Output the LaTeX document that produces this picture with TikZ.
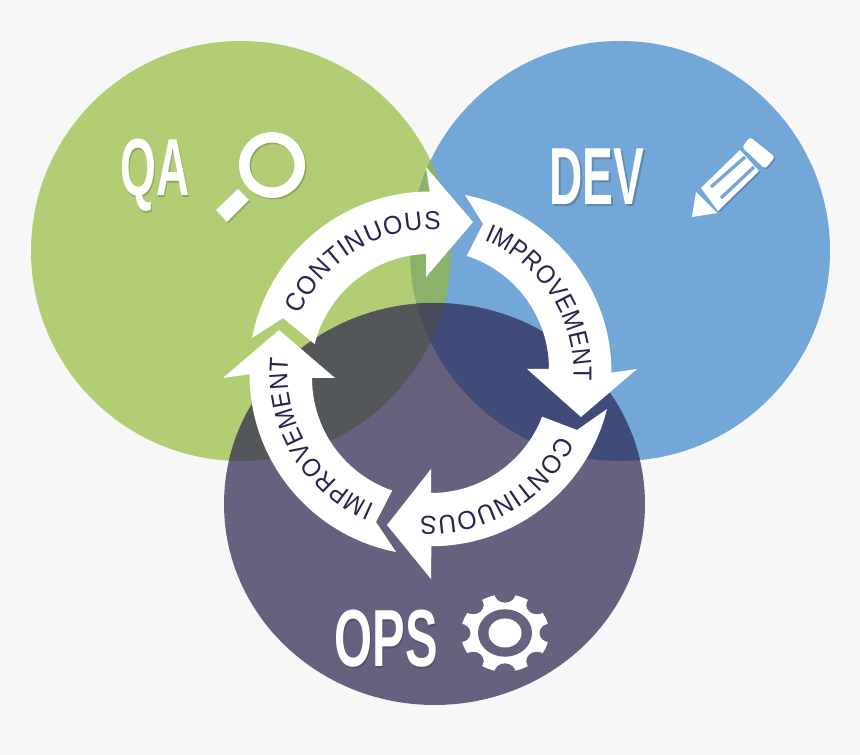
\documentclass[tikz,border=0pt]{standalone}
\usepackage{fontspec}
\newfontfamily\ringfont[FakeStretch=0.95]{Liberation Sans}
\newfontfamily\ringnarrow[FakeStretch=0.9]{Liberation Sans}
\newfontfamily\teamfont[FakeStretch=0.57]{Liberation Sans Bold}
\usepackage{tikz}
\usetikzlibrary{
	decorations.text
}

\definecolor{pagegray}{HTML}{F7F7F7}
\definecolor{qagreen}{HTML}{B3CD74}
\definecolor{devblue}{HTML}{72A7D7}
\definecolor{opspurple}{HTML}{67617F}
\definecolor{qadev}{HTML}{8AB268}
\definecolor{qaops}{HTML}{53575A}
\definecolor{devops}{HTML}{404B79}
\definecolor{allthree}{HTML}{474C5C}
\definecolor{ringtext}{HTML}{28234F}

\newcommand{\ringtype}{\ringfont\fontsize{26}{26}\selectfont\color{ringtext}}
\newcommand{\ringtypenarrow}{\ringnarrow\fontsize{26}{26}\selectfont\color{ringtext}}

\tikzset{
	teamlabel/.style={text=white, font=\teamfont\fontsize{81}{81}\selectfont, anchor=base, inner sep=0pt},
	ringlabel/.style={decorate, decoration={text along path, text align={fit to path}, text={|\ringtype|#1}}},
	ringlabelnarrow/.style={decorate, decoration={text along path, text align={fit to path}, text={|\ringtypenarrow|#1}}},
	shade offset/.style={shift={(1.5,-1.5)}, black, opacity=.18}
}

\newcommand{\qacircle}{(241,504) circle (210)}
\newcommand{\devcircle}{(620,504) circle (210)}
\newcommand{\opscircle}{(434.5,251) ellipse (210.5 and 201)}

\begin{document}
\begin{tikzpicture}[x=1pt, y=1pt]
		\fill[pagegray] (0,0) rectangle (860,755);

		% the three circles and their overlaps
		\fill[qagreen] \qacircle;
		\fill[devblue] \devcircle;
		\fill[opspurple] \opscircle;
		\begin{scope}
			\clip \qacircle;
			\fill[qadev] \devcircle;
			\fill[qaops] \opscircle;
			\clip \devcircle;
			\fill[allthree] \opscircle;
		\end{scope}
		\begin{scope}
			\clip \devcircle;
			\clip \opscircle;
			\fill[devops] (410,0) rectangle (860,755);
			\clip \qacircle;
			\fill[allthree] (410,0) rectangle (860,755);
		\end{scope}

		% ring of arrows
		\coordinate (ring) at (430.5,382);
		\fill[white] (252,417) arc (169:90:181) -- (426,588) -- (473,533) -- (426,478) -- (426,501)
			arc (92:166:119) -- (283,437) -- cycle;
		\fill[white] (465,560) arc (79:0:181) -- (637,386) -- (581,338) -- (527,386) -- (549,386)
			arc (0:72:119) -- (483,531) -- cycle;
		\fill[white] (607,346) arc (-14:-90:181) -- (431,176) -- (387,230) -- (431,286) -- (431,262)
			arc (-90:-21:119) -- (577,325) -- cycle;
		\fill[white] (396,203) arc (-101:-180:181) -- (223,377) -- (279,425) -- (335,377) -- (312,377)
			arc (180:251:119) -- (376,233) -- cycle;

		% text on the arrows
		\path[ringlabel={CONTINUOUS}] (ring) ++(156:143) arc (156:86:143);
		\path[ringlabelnarrow={IMPROVEMENT}] (ring) ++(68:143) arc (68:-3:143);
		\path[ringlabel={CONTINUOUS}] (ring) ++(-26:143) arc (-26:-94:143);
		\path[ringlabelnarrow={IMPROVEMENT}] (ring) ++(-113:143) arc (-113:-186:143);

		% team names
		\node[teamlabel, shade offset] at (155,559) {QA};
		\node[teamlabel, shade offset] at (597,550) {DEV};
		\node[teamlabel, shade offset, xscale=1.06, transform shape] at (386,88) {OPS};
		\node[teamlabel] (qa) at (155,559) {QA};
		\node[teamlabel] (dev) at (597,550) {DEV};
		\node[teamlabel, xscale=1.06, transform shape] (ops) at (386,88) {OPS};

		% magnifier
		\fill[shade offset, even odd rule] (272,590) circle (33) (272,590) circle (22.5);
		\fill[shade offset] (238,566) -- (249,555) -- (227,533) -- (216,545) -- cycle;
		\fill[white, even odd rule] (272,590) circle (33) (272,590) circle (22.5);
		\fill[white] (238,566) -- (249,555) -- (227,533) -- (216,545) -- cycle;

		% pencil
		\fill[shade offset, rounded corners=3pt] (750,618) -- (775,598) -- (765,586) -- (742,608) -- cycle;
		\fill[white, rounded corners=3pt] (750,618) -- (775,598) -- (765,586) -- (742,608) -- cycle;
		\fill[shade offset] (740,605) -- (759,584) -- (718,544) -- (701,567) -- cycle;
		\fill[white] (740,605) -- (759,584) -- (718,544) -- (701,567) -- cycle;
		\draw[devblue, line width=3.3pt] (711,568) -- (745,598);
		\draw[devblue, line width=3.3pt] (721,557) -- (754,588);
		\fill[white] (696,563) -- (717,542) -- (692,538) -- cycle;

		% gear
		\begin{scope}[shift={(505,122)}, yscale=.88]
			\fill[white] (0,0) circle (44);
			\foreach \ang in {0,45,...,315}
				\fill[opspurple] (\ang:45) circle (10.5);
			\fill[opspurple] (0,0) circle (27);
			\fill[white] (0,0) circle (16.5);
		\end{scope}
	\end{tikzpicture}
\end{document}
